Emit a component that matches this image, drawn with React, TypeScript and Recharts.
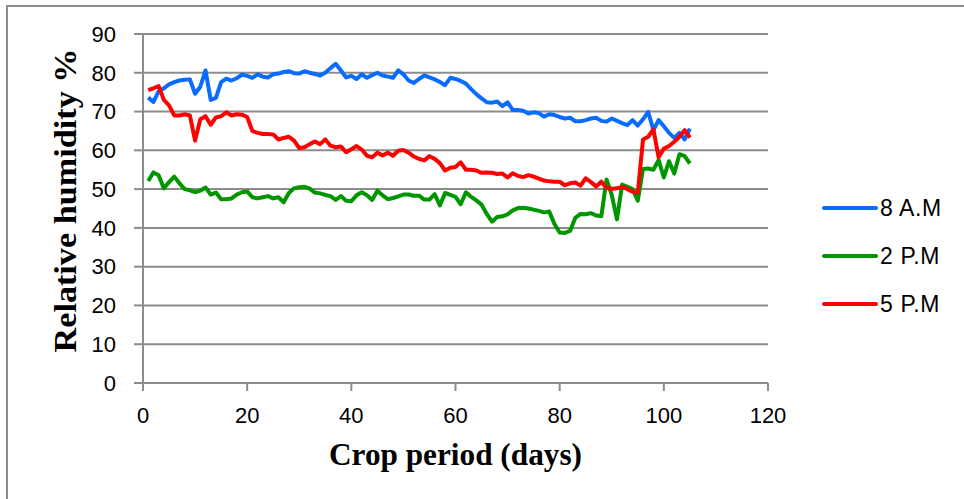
import React from "react";
import { LineChart, Line, XAxis, YAxis, CartesianGrid, Label } from "recharts";

const days = [
  1, 2, 3, 4, 5, 6, 7, 8, 9, 10, 11, 12, 13, 14, 15, 16, 17, 18, 19, 20,
  21, 22, 23, 24, 25, 26, 27, 28, 29, 30, 31, 32, 33, 34, 35, 36, 37, 38, 39, 40,
  41, 42, 43, 44, 45, 46, 47, 48, 49, 50, 51, 52, 53, 54, 55, 56, 57, 58, 59, 60,
  61, 62, 63, 64, 65, 66, 67, 68, 69, 70, 71, 72, 73, 74, 75, 76, 77, 78, 79, 80,
  81, 82, 83, 84, 85, 86, 87, 88, 89, 90, 91, 92, 93, 94, 95, 96, 97, 98, 99, 100,
  101, 102, 103, 104, 105,
];

const am8 = [
  73.6, 72.5, 75.2, 76.0, 77.0, 77.6, 78.0, 78.2, 78.3, 74.6,
  76.4, 80.6, 73.0, 73.5, 77.6, 78.5, 78.0, 78.6, 79.5, 79.2,
  78.7, 79.6, 79.0, 78.8, 79.6, 79.8, 80.2, 80.4, 79.9, 79.8,
  80.4, 80.0, 79.7, 79.3, 80.0, 81.2, 82.3, 80.6, 78.8, 79.2,
  78.4, 79.6, 78.7, 79.4, 80.0, 79.3, 79.0, 78.7, 80.6, 79.6,
  78.0, 77.4, 78.4, 79.3, 78.8, 78.3, 77.6, 76.8, 78.7, 78.4,
  77.9, 77.2, 75.8, 74.5, 73.4, 72.4, 72.3, 72.6, 71.4, 72.4,
  70.4, 70.4, 70.2, 69.5, 69.8, 69.6, 68.7, 69.3, 69.1, 68.6,
  68.2, 68.4, 67.5, 67.5, 67.8, 68.2, 68.4, 67.6, 67.4, 68.2,
  67.6, 67.0, 66.5, 67.8, 66.4, 68.0, 69.9, 65.2, 67.8, 66.2,
  64.5, 63.2, 64.5, 62.8, 65.6,
];

const pm2 = [
  52.1, 54.3, 53.6, 50.2, 51.8, 53.2, 51.5, 50.0, 49.7, 49.2,
  49.6, 50.4, 48.6, 49.1, 47.4, 47.4, 47.6, 48.6, 49.2, 49.4,
  47.9, 47.6, 47.9, 48.2, 47.6, 47.9, 46.6, 49.0, 50.2, 50.5,
  50.6, 50.1, 49.1, 48.9, 48.5, 48.2, 47.2, 48.2, 47.0, 46.9,
  48.4, 49.2, 48.4, 47.2, 49.6, 48.4, 47.4, 47.7, 48.1, 48.6,
  48.6, 48.3, 48.3, 47.3, 47.3, 48.7, 45.8, 49.0, 48.5, 48.0,
  46.1, 49.2, 48.0, 47.1, 46.0, 43.6, 41.6, 42.8, 43.0, 43.5,
  44.5, 45.1, 45.2, 45.0, 44.7, 44.4, 44.0, 44.2, 41.0, 38.8,
  38.7, 39.2, 42.6, 43.6, 43.5, 43.8, 43.2, 43.0, 52.5, 48.5,
  42.2, 51.2, 50.6, 50.0, 47.0, 55.2, 55.3, 55.0, 57.5, 53.0,
  57.2, 54.0, 59.0, 58.5, 56.6,
];

const pm5 = [
  75.5, 76.0, 76.6, 73.0, 71.6, 69.0, 69.0, 69.3, 69.0, 62.5,
  68.0, 68.8, 66.6, 68.5, 68.8, 69.8, 69.0, 69.3, 69.2, 68.6,
  65.0, 64.5, 64.2, 64.2, 64.1, 62.8, 63.2, 63.5, 62.5, 60.6,
  60.8, 61.6, 62.3, 61.6, 62.8, 61.2, 60.8, 61.0, 59.5, 60.3,
  61.1, 60.2, 58.6, 58.2, 59.4, 58.7, 59.4, 58.6, 59.9, 60.1,
  59.4, 58.4, 57.8, 57.4, 58.5, 57.8, 56.7, 54.8, 55.5, 55.7,
  56.9, 55.0, 55.0, 54.8, 54.2, 54.3, 54.2, 53.9, 54.0, 53.0,
  54.1, 53.4, 53.1, 53.6, 53.2, 52.7, 52.2, 52.0, 51.9, 51.9,
  51.0, 51.5, 51.7, 50.9, 52.8, 51.8, 50.7, 51.9, 50.3, 50.1,
  50.2, 50.6, 50.0, 49.3, 49.1, 62.8, 63.5, 65.4, 58.2, 60.4,
  61.1, 62.2, 63.5, 65.2, 63.3,
];

const xTicks = [0, 20, 40, 60, 80, 100, 120];
const yTicks = [0, 10, 20, 30, 40, 50, 60, 70, 80, 90];

const seriesNames = ["8 A.M", "2 P.M", "5 P.M"];
const seriesColors = ["#0a6cff", "#009600", "#ff0000"];

const data = days.map((d, i) => ({ day: d, am8: am8[i], pm2: pm2[i], pm5: pm5[i] }));

const GRID = "#8c8c8c";
const TICK_FONT = "'Liberation Sans', Arial, sans-serif";
const TITLE_FONT = "'Liberation Serif', 'Times New Roman', serif";

const LegendBox = () => (
  <div style={{ position: "absolute", left: 822, top: 184, display: "flex", flexDirection: "column" }}>
    {seriesNames.map((n, i) => (
      <div key={n} style={{ display: "flex", alignItems: "center", height: 48 }}>
        <svg width={56} height={8} style={{ display: "block" }}>
          <line x1={2} y1={4} x2={54} y2={4} stroke={seriesColors[i]} strokeWidth={4} strokeLinecap="round" />
        </svg>
        <span
          style={{
            fontFamily: TICK_FONT,
            fontSize: 23,
            letterSpacing: 0.6,
            color: "#000",
            marginLeft: 2,
            lineHeight: "24px",
            whiteSpace: "nowrap",
          }}
        >
          {n}
        </span>
      </div>
    ))}
  </div>
);

export default function App() {
  return (
    <div style={{ position: "absolute", left: 0, top: 0, width: 964, height: 499, background: "#fff", overflow: "hidden" }}>
      <div
        style={{
          position: "absolute",
          left: 6,
          top: 5,
          width: 964,
          height: 499,
          borderLeft: "2px solid #8c8c8c",
          borderTop: "2px solid #8c8c8c",
          boxSizing: "border-box",
        }}
      />
      <LineChart
        width={964}
        height={499}
        data={data}
        margin={{ top: 34, right: 196, bottom: 0, left: 0 }}
        style={{ position: "absolute", left: 0, top: 0 }}
      >
        <CartesianGrid vertical={false} stroke={GRID} strokeWidth={2} />
        <XAxis
          dataKey="day"
          type="number"
          domain={[0, 120]}
          ticks={xTicks}
          height={116}
          tickSize={8}
          tickMargin={16}
          axisLine={{ stroke: GRID, strokeWidth: 2 }}
          tickLine={{ stroke: GRID, strokeWidth: 2 }}
          tick={{ fill: "#000", fontSize: 22, fontFamily: TICK_FONT }}
        >
          <Label
            content={(props: any) => {
              const vb = props.viewBox || {};
              const cx = vb.x + vb.width / 2;
              return (
                <text
                  x={cx}
                  y={465}
                  textAnchor="middle"
                  fontFamily={TITLE_FONT}
                  fontWeight="bold"
                  fontSize={31}
                  textLength={253}
                  lengthAdjust="spacingAndGlyphs"
                  fill="#000"
                >
                  Crop period (days)
                </text>
              );
            }}
          />
        </XAxis>
        <YAxis
          type="number"
          domain={[0, 90]}
          ticks={yTicks}
          width={143}
          tickSize={9}
          tickMargin={18}
          axisLine={{ stroke: GRID, strokeWidth: 2 }}
          tickLine={{ stroke: GRID, strokeWidth: 2 }}
          tick={{ fill: "#000", fontSize: 22, fontFamily: TICK_FONT }}
        >
          <Label
            content={(props: any) => {
              const vb = props.viewBox || {};
              const cy = vb.y + vb.height / 2 - 8;
              const x = 76;
              return (
                <text
                  x={x}
                  y={cy}
                  transform={`rotate(-90 ${x} ${cy})`}
                  textAnchor="middle"
                  fontFamily={TITLE_FONT}
                  fontWeight="bold"
                  fontSize={31}
                  textLength={304}
                  lengthAdjust="spacingAndGlyphs"
                  fill="#000"
                >
                  Relative humidity %
                </text>
              );
            }}
          />
        </YAxis>
        <Line
          type="linear"
          dataKey="am8"
          name={seriesNames[0]}
          stroke={seriesColors[0]}
          strokeWidth={4}
          dot={false}
          strokeLinejoin="round"
          isAnimationActive={false}
        />
        <Line
          type="linear"
          dataKey="pm2"
          name={seriesNames[1]}
          stroke={seriesColors[1]}
          strokeWidth={4}
          dot={false}
          strokeLinejoin="round"
          isAnimationActive={false}
        />
        <Line
          type="linear"
          dataKey="pm5"
          name={seriesNames[2]}
          stroke={seriesColors[2]}
          strokeWidth={4}
          dot={false}
          strokeLinejoin="round"
          isAnimationActive={false}
        />
      </LineChart>
      <LegendBox />
    </div>
  );
}
